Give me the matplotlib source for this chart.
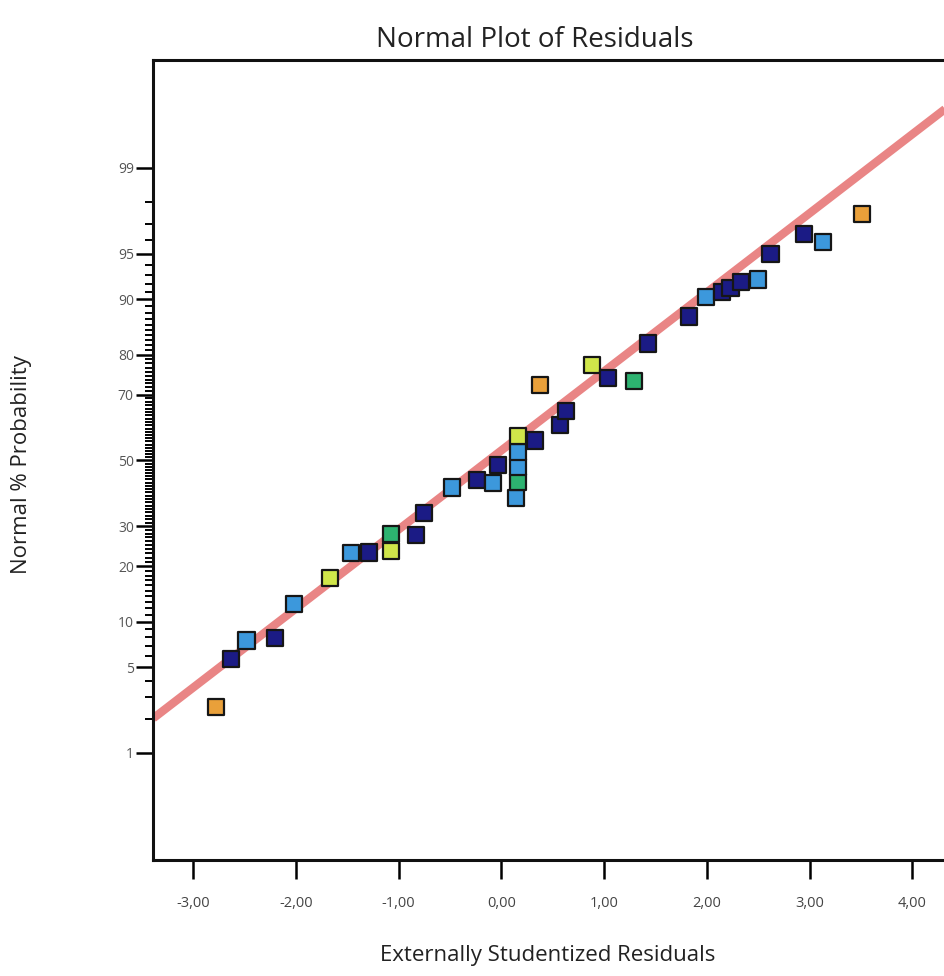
import math
import numpy as np
import matplotlib
matplotlib.use("Agg")
import matplotlib.pyplot as plt
from matplotlib.ticker import FixedLocator, FixedFormatter

plt.rcParams['font.family'] = ['Open Sans', 'DejaVu Sans']

# residuals (x) and normal % probability (y)
resid = [-2.78, -2.63, -2.48, -2.20, -2.02, -1.67, -1.46, -1.29, -1.07, -1.07,
         -0.83, -0.75, -0.48, -0.24, -0.08, -0.03, 0.14, 0.16, 0.16, 0.16,
         0.16, 0.33, 0.38, 0.57, 0.63, 0.88, 1.04, 1.29, 1.43, 1.83,
         1.99, 2.15, 2.23, 2.33, 2.50, 2.62, 2.95, 3.13, 3.51]
prob = [2.5, 5.7, 7.6, 7.9, 12.7, 17.4, 23.0, 23.2, 23.6, 27.9,
        27.7, 33.7, 41.5, 43.8, 42.9, 48.6, 38.2, 43.1, 48.0, 52.8,
        57.7, 56.3, 72.5, 61.1, 65.3, 77.6, 74.3, 73.6, 82.4, 87.4,
        90.3, 91.0, 91.5, 92.2, 92.5, 95.0, 96.4, 95.9, 97.5]
group = ['orange', 'navy', 'light', 'navy', 'light', 'yellow', 'light', 'navy', 'yellow', 'green',
         'navy', 'navy', 'light', 'navy', 'light', 'navy', 'light', 'green', 'light', 'light',
         'yellow', 'navy', 'orange', 'navy', 'navy', 'yellow', 'navy', 'green', 'navy', 'navy',
         'light', 'navy', 'navy', 'navy', 'light', 'navy', 'navy', 'light', 'orange']
group_colors = {'navy': '#1b1b85', 'light': '#3c98dc', 'green': '#2db270',
                'yellow': '#d0e64a', 'orange': '#e9a03a'}

# reference line (normal fit)
fit_mean = -0.126
fit_sd = 1.59

x_ticks = [-3, -2, -1, 0, 1, 2, 3, 4]
x_labels = ['-3,00', '-2,00', '-1,00', '0,00', '1,00', '2,00', '3,00', '4,00']
y_major = [1, 5, 10, 20, 30, 50, 70, 80, 90, 95, 99]
y_minor = [p for p in range(1, 100) if p not in y_major]

# normal probability scale
_zg = np.linspace(-6, 6, 24001)
_pg = np.array([0.5 * (1 + math.erf(z / math.sqrt(2))) for z in _zg]) * 100


def to_z(p):
    return np.interp(p, _pg, _zg)


def to_p(z):
    return np.interp(z, _zg, _pg)


fig = plt.figure(figsize=(9.44, 9.76), dpi=100)
ax = fig.add_axes([0.1624, 0.1189, 0.853, 0.8197])
ax.set_yscale('function', functions=(to_z, to_p))

xmin, xmax = -3.387, 4.45
lx = np.array([xmin, xmax])
lp = to_p((lx - fit_mean) / fit_sd)
ax.plot(lx, lp, color='#e98585', lw=6, solid_capstyle='butt', zorder=2)

ax.scatter(resid, prob, marker='s', s=135, c=[group_colors[g] for g in group],
           edgecolors='#161616', linewidths=1.6, zorder=3)

ax.set_xlim(xmin, xmax)
ax.set_ylim(to_p(-3.178), to_p(3.186))

ax.xaxis.set_major_locator(FixedLocator(x_ticks))
ax.xaxis.set_major_formatter(FixedFormatter(x_labels))
ax.yaxis.set_major_locator(FixedLocator(y_major))
ax.yaxis.set_major_formatter(FixedFormatter([str(v) for v in y_major]))
ax.yaxis.set_minor_locator(FixedLocator(y_minor))
ax.yaxis.set_minor_formatter(FixedFormatter([''] * len(y_minor)))

ax.tick_params(axis='x', which='major', length=14, width=1.8, pad=12,
               labelsize=10.5, labelcolor='#444444', direction='out')
ax.tick_params(axis='y', which='major', length=12, width=1.8, pad=2,
               labelsize=10, labelcolor='#555555', direction='out')
ax.tick_params(axis='y', which='minor', length=6, width=1.4, direction='out')

for side in ['left', 'bottom', 'top', 'right']:
    ax.spines[side].set_linewidth(2.2)
    ax.spines[side].set_color('#111111')

fig.text(535 / 944, 1 - 40 / 976, 'Normal Plot of Residuals', ha='center',
         va='center', fontsize=20, color='#222222')
fig.text(548 / 944, 1 - 955 / 976, 'Externally Studentized Residuals', ha='center',
         va='center', fontsize=16, color='#222222')
fig.text(22 / 944, 1 - 465 / 976, 'Normal % Probability', ha='center',
         va='center', rotation=90, fontsize=16, color='#222222')

fig.savefig('out.png', dpi=100)
